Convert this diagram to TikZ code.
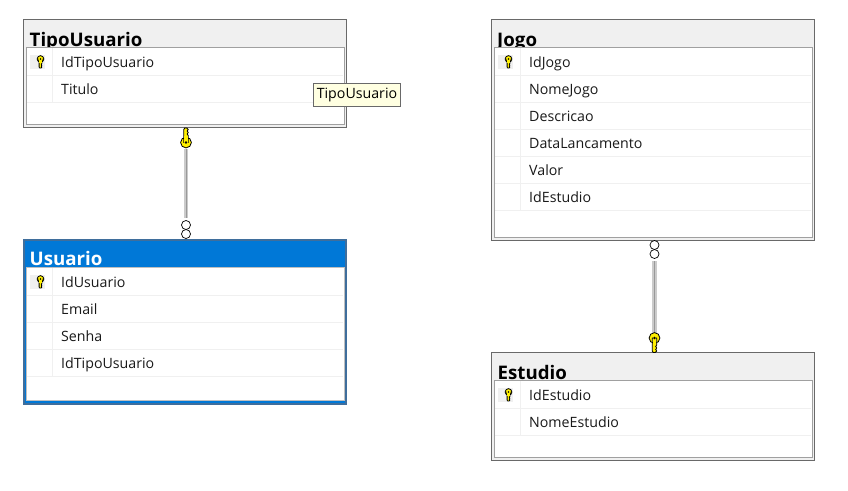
\documentclass[tikz,border=0pt]{standalone}
\usepackage{fontspec}
\setmainfont{Open Sans}
\definecolor{panelgray}{HTML}{F0F0F0}
\definecolor{edgegray}{HTML}{696969}
\definecolor{innergray}{HTML}{A0A0A0}
\definecolor{selblue}{HTML}{0078D7}
\definecolor{seledge}{HTML}{3F6E9C}
\definecolor{tipcream}{HTML}{FFFFE1}
\definecolor{keyyellow}{HTML}{FFF000}
\tikzset{
    tablebox/.style={rectangle,draw=edgegray,fill=panelgray,line width=1pt,inner sep=0pt},
    selbox/.style={tablebox,draw=seledge,fill=selblue,line width=2pt},
    gridbox/.style={rectangle,draw=innergray,fill=white,line width=1pt,inner sep=0pt},
    tabletitle/.style={anchor=base west,inner sep=0pt,font=\fontsize{18.7}{18}\selectfont\bfseries},
    rowtext/.style={anchor=base west,inner sep=0pt,font=\fontsize{14.2}{14}\selectfont,text=black!90},
    sepline/.style={draw=panelgray,line width=1pt},
    keypatch/.style={rectangle,fill=panelgray,inner sep=0pt,minimum width=15pt,minimum height=14pt},
    ringmark/.style={circle,draw=black,fill=white,line width=0.7pt,inner sep=0pt,minimum size=9pt},
    relline/.style={draw=innergray!55,line width=4.6pt},
    relcore/.style={draw=gray!80,line width=0.9pt},
    tipbox/.style={rectangle,draw=edgegray,fill=tipcream,line width=1pt,inner sep=0pt,
        minimum width=87pt,minimum height=23pt,font=\fontsize{14.2}{14}\selectfont},
    keyicon/.pic={
        \draw[fill=keyyellow,draw=black,line width=0.8pt]
            (-2.2,0) -- (-2.2,13) -- (-1.2,14.5) -- (0.8,14.5) -- (2.2,13) -- (1.2,11.5) -- (2.2,10) -- (1.2,8.5) -- (2.2,7) -- (2.2,0) -- cycle
            (0,0) circle (5.4);
        \fill[keyyellow] (-1.7,-3) rectangle (1.7,7);
        \fill[black] (0,0) circle (1.3);
    },
}
\newcommand{\rowkey}[1]{
    \node[keypatch] (#1patch) at (#1) {};
    \draw (#1) ++(3,-3) pic[scale=0.62] {keyicon};
}
\begin{document}
\begin{tikzpicture}[x=1pt,y=-1pt]
    \useasboundingbox (0,0) rectangle (848,490);
    % TipoUsuario
    \node[tablebox,minimum width=323pt,minimum height=108pt] (tipoUsuario) at (185,73.5) {};
    \node[tabletitle] (tipoTitle) at (29.5,46) {TipoUsuario};
    \node[gridbox,minimum width=318pt,minimum height=77pt] (tipoGrid) at (185,85.5) {};
    \foreach \sy in {75,102} \draw[sepline] (27,\sy) -- (343,\sy);
    \draw[sepline] (52.5,48) -- (52.5,102);
    \coordinate (tipoKey) at (37.5,62);
    \rowkey{tipoKey}
    \node[rowtext] (tipoA) at (61,67) {IdTipoUsuario};
    \node[rowtext] (tipoB) at (61,94) {Titulo};
    % Usuario
    \node[selbox,minimum width=322pt,minimum height=164pt] (usuario) at (185,321.5) {};
    \node[tabletitle,text=white] (usuarioTitle) at (29.5,265.5) {Usuario};
    \node[gridbox,draw=black!25,minimum width=318pt,minimum height=133pt] (usuarioGrid) at (185,333.5) {};
    \foreach \sy in {295,322,349,376} \draw[sepline] (27,\sy) -- (343,\sy);
    \draw[sepline] (52.5,268) -- (52.5,376);
    \coordinate (usuarioKey) at (37.5,282);
    \rowkey{usuarioKey}
    \node[rowtext] (usuarioA) at (61,287) {IdUsuario};
    \node[rowtext] (usuarioB) at (61,314) {Email};
    \node[rowtext] (usuarioC) at (61,341) {Senha};
    \node[rowtext] (usuarioD) at (61,368) {IdTipoUsuario};
    % Jogo
    \node[tablebox,minimum width=323pt,minimum height=221pt] (jogo) at (653,129.5) {};
    \node[tabletitle] (jogoTitle) at (497,46) {Jogo};
    \node[gridbox,minimum width=318pt,minimum height=190pt] (jogoGrid) at (653,142) {};
    \foreach \sy in {75,102,129,156,183,210} \draw[sepline] (495,\sy) -- (811,\sy);
    \draw[sepline] (520.5,48) -- (520.5,210);
    \coordinate (jogoKey) at (505.5,62);
    \rowkey{jogoKey}
    \node[rowtext] (jogoA) at (529,67) {IdJogo};
    \node[rowtext] (jogoB) at (529,94) {NomeJogo};
    \node[rowtext] (jogoC) at (529,121) {Descricao};
    \node[rowtext] (jogoD) at (529,148) {DataLancamento};
    \node[rowtext] (jogoE) at (529,175) {Valor};
    \node[rowtext] (jogoF) at (529,202) {IdEstudio};
    % Estudio
    \node[tablebox,minimum width=323pt,minimum height=108pt] (estudio) at (653,406.5) {};
    \node[tabletitle] (estudioTitle) at (497.5,379) {Estudio};
    \node[gridbox,minimum width=318pt,minimum height=77pt] (estudioGrid) at (653,418.5) {};
    \foreach \sy in {408,435} \draw[sepline] (495,\sy) -- (811,\sy);
    \draw[sepline] (520.5,381) -- (520.5,435);
    \coordinate (estudioKey) at (505.5,395);
    \rowkey{estudioKey}
    \node[rowtext] (estudioA) at (529,400) {IdEstudio};
    \node[rowtext] (estudioB) at (529,427) {NomeEstudio};
    % relacoes
    \coordinate (keyTipo) at (186,149);
    \node[ringmark] (ringTipoB) at (186,234) {};
    \node[ringmark] (ringTipoA) at (186,225) {};
    \draw[relline,shorten >=2.5pt] (keyTipo) -- (ringTipoA.north);
    \draw[relcore,shorten >=2.5pt] (keyTipo) -- (ringTipoA.north);
    \draw (186,142.5) pic[yscale=-1,xscale=1] {keyicon};
    \coordinate (keyEstudio) at (654.5,333);
    \node[ringmark] (ringJogoA) at (654.5,245) {};
    \node[ringmark] (ringJogoB) at (654.5,254) {};
    \draw[relline,shorten <=2.5pt] (ringJogoB.south) -- (keyEstudio);
    \draw[relcore,shorten <=2.5pt] (ringJogoB.south) -- (keyEstudio);
    \draw (654.5,338) pic {keyicon};
    % dica
    \node[tipbox] (tipoTip) at (357,95) {TipoUsuario};
\end{tikzpicture}
\end{document}
